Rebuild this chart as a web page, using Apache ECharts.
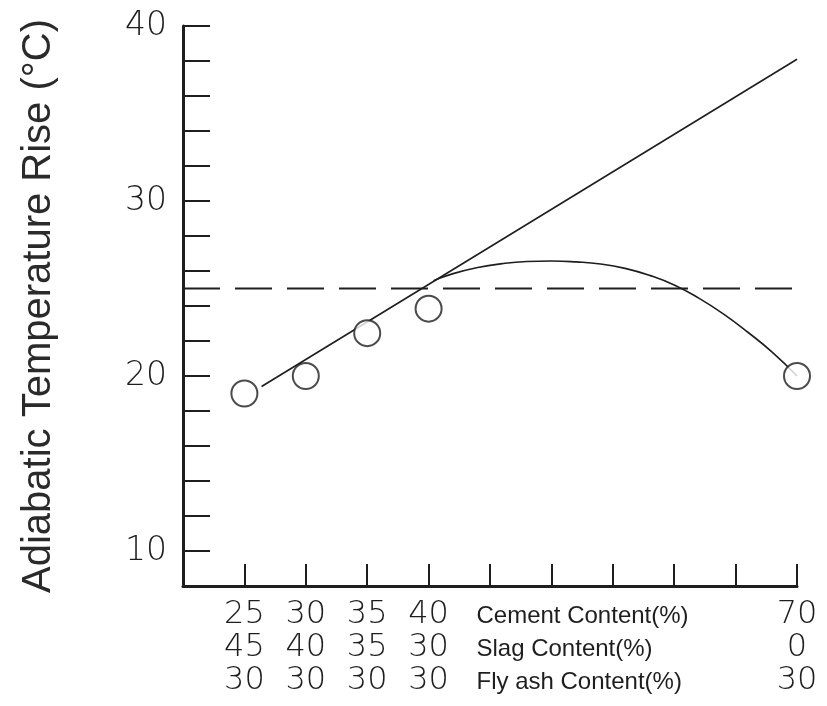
<!DOCTYPE html>
<html>
<head>
<meta charset="utf-8">
<style>
  html, body { margin: 0; padding: 0; background: #ffffff; }
  #chart { width: 827px; height: 706px; }
</style>
<script src="https://cdn.jsdelivr.net/npm/echarts@6/dist/echarts.min.js"></script>
</head>
<body>
<div id="chart"></div>
<script>
// Mix proportions (%) for each tested blend
const cementContent = [25, 30, 35, 40, 70];
const slagContent = [45, 40, 35, 30, 0];
const flyAshContent = [30, 30, 30, 30, 30];

// Measured adiabatic temperature rise (°C)
const measuredRise = [19.0, 20.0, 22.45, 23.85, 20.0];

// Linear trend for the slag-rich blends (cement %, °C)
const trendLine = [[26.4, 19.4], [70, 38.1]];

// Fitted curve beyond 40% cement (cement %, °C)
const fittedCurve = [
  [40.4, 25.45], [42, 25.85], [44, 26.2], [46, 26.42], [48, 26.54], [50, 26.57],
  [52, 26.52], [54, 26.4], [56, 26.15], [58, 25.75], [60, 25.2], [62, 24.45],
  [64, 23.55], [66, 22.5], [68, 21.35], [70, 20.0]
];

// Allowed temperature rise (°C)
const limitRise = 25;

const yTickLabels = [10, 20, 30, 40];
const rowTitles = ['Cement Content(%)', 'Slag Content(%)', 'Fly ash Content(%)'];

const ink = '#1e1e1e';
const numFont = 'DejaVu Sans';
const textFont = 'Liberation Sans';

const chart = echarts.init(document.getElementById('chart'));

const option = {
  backgroundColor: '#ffffff',
  animation: false,
  grid: { left: 183, right: 30, top: 26, bottom: 120, containLabel: false },
  xAxis: {
    type: 'value',
    min: 20,
    max: 70,
    interval: 5,
    splitLine: { show: false },
    axisLine: { lineStyle: { color: ink, width: 3 } },
    axisTick: { inside: true, length: 22, lineStyle: { color: ink, width: 2 } },
    axisLabel: {
      margin: 12,
      showMinLabel: true,
      showMaxLabel: true,
      formatter: function (v) {
        const i = cementContent.indexOf(v);
        if (i < 0) return '';
        return '{n|' + cementContent[i] + '}\n{n|' + slagContent[i] + '}\n{n|' + flyAshContent[i] + '}';
      },
      rich: {
        n: { fontFamily: numFont, fontWeight: 200, fontSize: 32, lineHeight: 33, color: ink, align: 'center' }
      }
    }
  },
  yAxis: {
    type: 'value',
    min: 8,
    max: 40,
    interval: 2,
    splitLine: { show: false },
    axisLine: { lineStyle: { color: ink, width: 3 } },
    axisTick: { inside: true, length: 27, lineStyle: { color: ink, width: 2 } },
    axisLabel: {
      margin: 16,
      fontFamily: numFont,
      fontWeight: 200,
      fontSize: 33,
      color: ink,
      formatter: function (v) { return yTickLabels.indexOf(v) >= 0 ? String(v) : ''; }
    },
    name: 'Adiabatic Temperature Rise (°C)',
    nameLocation: 'middle',
    nameRotate: 90,
    nameGap: 124,
    nameTextStyle: { fontFamily: textFont, fontSize: 40, color: '#2a2a2a' }
  },
  series: [
    {
      name: 'limit',
      type: 'line',
      data: [[20, limitRise], [70, limitRise]],
      symbol: 'none',
      lineStyle: { color: ink, width: 2, type: [37, 15] },
      z: 2
    },
    {
      name: 'trend',
      type: 'line',
      data: trendLine,
      symbol: 'none',
      lineStyle: { color: ink, width: 1.6 },
      z: 3
    },
    {
      name: 'curve',
      type: 'line',
      data: fittedCurve,
      smooth: true,
      symbol: 'none',
      lineStyle: { color: ink, width: 1.6 },
      z: 3
    },
    {
      name: 'measured',
      type: 'scatter',
      data: cementContent.map(function (c, i) { return [c, measuredRise[i]]; }),
      symbol: 'circle',
      symbolSize: 26,
      itemStyle: { color: '#ffffff', borderColor: ink, borderWidth: 2 },
      z: 5
    }
  ]
};

chart.setOption(option);

// Row captions between the 40% and 70% columns
const axisY = chart.convertToPixel({ yAxisIndex: 0 }, 8);
const captionX = chart.convertToPixel({ xAxisIndex: 0 }, 43.9);
chart.setOption({
  graphic: rowTitles.map(function (t, i) {
    return {
      type: 'text',
      x: captionX,
      y: axisY + 12 + 18 + i * 33,
      style: {
        text: t,
        fontFamily: textFont,
        fontSize: 24,
        fill: ink,
        verticalAlign: 'middle'
      }
    };
  })
});
</script>
</body>
</html>
